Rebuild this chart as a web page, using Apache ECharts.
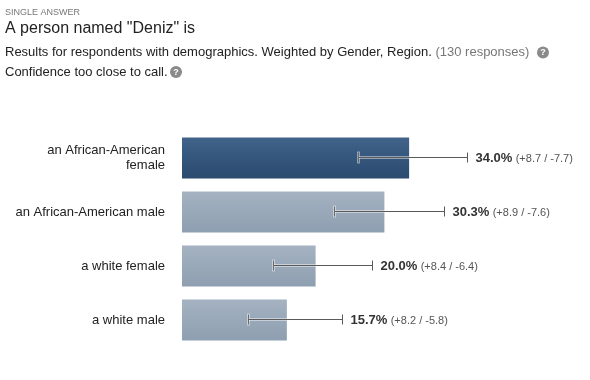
<!DOCTYPE html>
<html><head><meta charset="utf-8">
<script src="https://cdn.jsdelivr.net/npm/echarts@6/dist/echarts.min.js"></script>
<style>html,body{margin:0;padding:0;background:#fff}#c{width:590px;height:380px}</style>
</head><body><div id="c"></div>
<script>
const categories = ["an African-American\nfemale", "an African-American male", "a white female", "a white male"];
const values = [34.0, 30.3, 20.0, 15.7];
const plusErr = [8.7, 8.9, 8.4, 8.2];
const minusErr = [7.7, 7.6, 6.4, 5.8];
const highlightIndex = 0;

const FONT = '"Liberation Sans", Arial, Helvetica, sans-serif';
const chart = echarts.init(document.getElementById('c'), null, {renderer: 'canvas'});

const darkGrad = new echarts.graphic.LinearGradient(0, 0, 0, 1, [{offset: 0, color: '#41638a'}, {offset: 1, color: '#2a4a6e'}]);
const lightGrad = new echarts.graphic.LinearGradient(0, 0, 0, 1, [{offset: 0, color: '#a4b2c1'}, {offset: 1, color: '#8e9fb1'}]);

function helpIcon(x, y) {
  return {
    type: 'group', x: x, y: y,
    children: [
      {type: 'circle', shape: {cx: 0, cy: 0, r: 6}, style: {fill: '#8a8a8a'}},
      {type: 'text', style: {text: '?', x: 0, y: 0.5, align: 'center', verticalAlign: 'middle', fill: '#fff', font: 'bold 9px ' + FONT}}
    ]
  };
}

chart.setOption({
  animation: false,
  grid: {left: 182, top: 131, width: 400.8, height: 216},
  xAxis: {type: 'value', min: 0, max: 60, show: false},
  yAxis: {
    type: 'category', data: categories, inverse: true,
    axisLine: {show: false}, axisTick: {show: false}, splitLine: {show: false},
    axisLabel: {margin: 17, color: '#222', fontFamily: FONT, fontSize: 13, lineHeight: 15, align: 'right'}
  },
  graphic: [
    {type: 'text', left: 5, top: 8, style: {text: 'SINGLE ANSWER', fill: '#777', font: '9px ' + FONT}},
    {type: 'text', left: 5, top: 21, style: {text: 'A person named "Deniz" is', fill: '#222', font: '16px ' + FONT}},
    {type: 'text', left: 5, top: 46, style: {
      text: '{a|Results for respondents with demographics. Weighted by Gender, Region. }{g|(130 responses)}',
      rich: {a: {fill: '#222', font: '13px ' + FONT}, g: {fill: '#777', font: '13px ' + FONT}}
    }},
    helpIcon(543, 52.5),
    {type: 'text', left: 5, top: 66, style: {text: 'Confidence too close to call.', fill: '#222', font: '13px ' + FONT}},
    helpIcon(176, 72)
  ],
  series: [
    {
      type: 'bar',
      data: values.map((v, i) => ({value: v, itemStyle: {color: i === highlightIndex ? darkGrad : lightGrad}})),
      barWidth: 41,
      silent: true,
      z: 2
    },
    {
      type: 'custom',
      clip: false,
      silent: true,
      z: 5,
      data: values.map((v, i) => [i, v, plusErr[i], minusErr[i]]),
      encode: {x: 1, y: 0},
      renderItem: function (params, api) {
        const idx = api.value(0), v = api.value(1), p = api.value(2), m = api.value(3);
        const lo = api.coord([v - m, idx]);
        const hi = api.coord([v + p, idx]);
        const y = Math.round(lo[1]) - 0.5;
        const xl = Math.round(lo[0]) + 0.5, xh = Math.round(hi[0]) + 0.5;
        const txt = '{b|' + v.toFixed(1) + '%} {n|(+' + p.toFixed(1) + ' / -' + m.toFixed(1) + ')}';
        return {
          type: 'group',
          children: [
            {type: 'line', shape: {x1: xl, y1: y, x2: xh, y2: y}, style: {stroke: 'rgba(255,255,255,0.45)', lineWidth: 3}},
            {type: 'line', shape: {x1: xl, y1: y - 6, x2: xl, y2: y + 6}, style: {stroke: 'rgba(255,255,255,0.45)', lineWidth: 3}},
            {type: 'line', shape: {x1: xl, y1: y, x2: xh, y2: y}, style: {stroke: '#5a5a5a', lineWidth: 1}},
            {type: 'line', shape: {x1: xl, y1: y - 5, x2: xl, y2: y + 5}, style: {stroke: '#6a6a6a', lineWidth: 1}},
            {type: 'line', shape: {x1: xh, y1: y - 5, x2: xh, y2: y + 5}, style: {stroke: '#5a5a5a', lineWidth: 1}},
            {type: 'text', x: xh + 8, y: y + 1, style: {
              text: txt, verticalAlign: 'middle',
              rich: {b: {fill: '#333', font: 'bold 13px ' + FONT}, n: {fill: '#555', font: '11px ' + FONT}}
            }}
          ]
        };
      }
    }
  ]
});
</script></body></html>
